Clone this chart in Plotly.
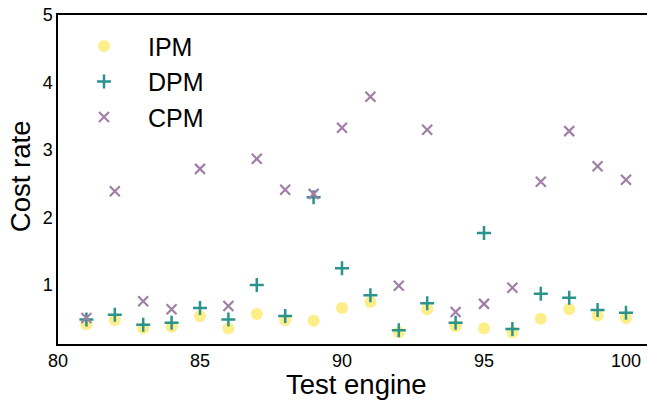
import plotly.graph_objects as go

engines = list(range(81, 101))
ipm = [0.42, 0.48, 0.36, 0.38, 0.54, 0.36, 0.57, 0.48, 0.47, 0.66,
       0.75, 0.30, 0.64, 0.39, 0.36, 0.30, 0.50, 0.64, 0.55, 0.51]
dpm = [0.49, 0.56, 0.41, 0.44, 0.66, 0.49, 1.00, 0.54, 2.30, 1.25,
       0.85, 0.33, 0.73, 0.44, 1.77, 0.35, 0.87, 0.81, 0.63, 0.59]
cpm = [0.51, 2.39, 0.76, 0.64, 2.72, 0.69, 2.87, 2.41, 2.35, 3.33,
       3.79, 0.99, 3.30, 0.60, 0.72, 0.96, 2.53, 3.28, 2.76, 2.56]

fig = go.Figure()
fig.add_trace(go.Scatter(x=engines, y=ipm, mode="markers", name="IPM", legendgroup="a",
                         marker=dict(symbol="circle", size=12, color="#fdee8a")))
fig.add_trace(go.Scatter(x=engines, y=dpm, mode="markers", name="DPM", legendgroup="b",
                         marker=dict(symbol="cross-thin", size=10, color="#2a938e",
                                     line=dict(width=2.5, color="#2a938e"))))
fig.add_trace(go.Scatter(x=engines, y=cpm, mode="markers", name="CPM", legendgroup="c",
                         marker=dict(symbol="x-thin", size=10, color="#a07fa6",
                                     line=dict(width=2.2, color="#a07fa6"))))

axis_common = dict(showgrid=False, zeroline=False, showline=True, linecolor="black",
                   linewidth=1.5, mirror=True, ticks="", automargin=False,
                   tickfont=dict(size=18, family="Liberation Sans", color="black"))
fig.update_layout(
    width=647, height=406,
    margin=dict(l=58, r=0, t=15, b=62),
    plot_bgcolor="white", paper_bgcolor="white",
    font=dict(family="Liberation Sans", color="black"),
    xaxis=dict(range=[80, 100.74], tickvals=[80, 85, 90, 95, 100], **axis_common),
    yaxis=dict(range=[0.126, 5.0], tickvals=[1, 2, 3, 4, 5], **axis_common),
    legend=dict(x=0.0034, y=0.975, xanchor="left", yanchor="top", font=dict(size=25),
                tracegroupgap=0, itemwidth=78, bgcolor="rgba(0,0,0,0)"),
    annotations=[
        dict(text="Test engine", xref="paper", yref="paper", x=0.506, y=-0.124,
             xanchor="center", yanchor="middle", showarrow=False,
             font=dict(size=27.5, color="black")),
        dict(text="Cost rate", xref="paper", yref="paper", x=-0.0635, y=0.509,
             xanchor="center", yanchor="middle", showarrow=False, textangle=-90,
             font=dict(size=27.5, color="black")),
    ],
)
fig.write_html("out.html", config={"displayModeBar": False},
               post_script="document.body.style.margin='0';document.body.style.overflow='hidden';")
